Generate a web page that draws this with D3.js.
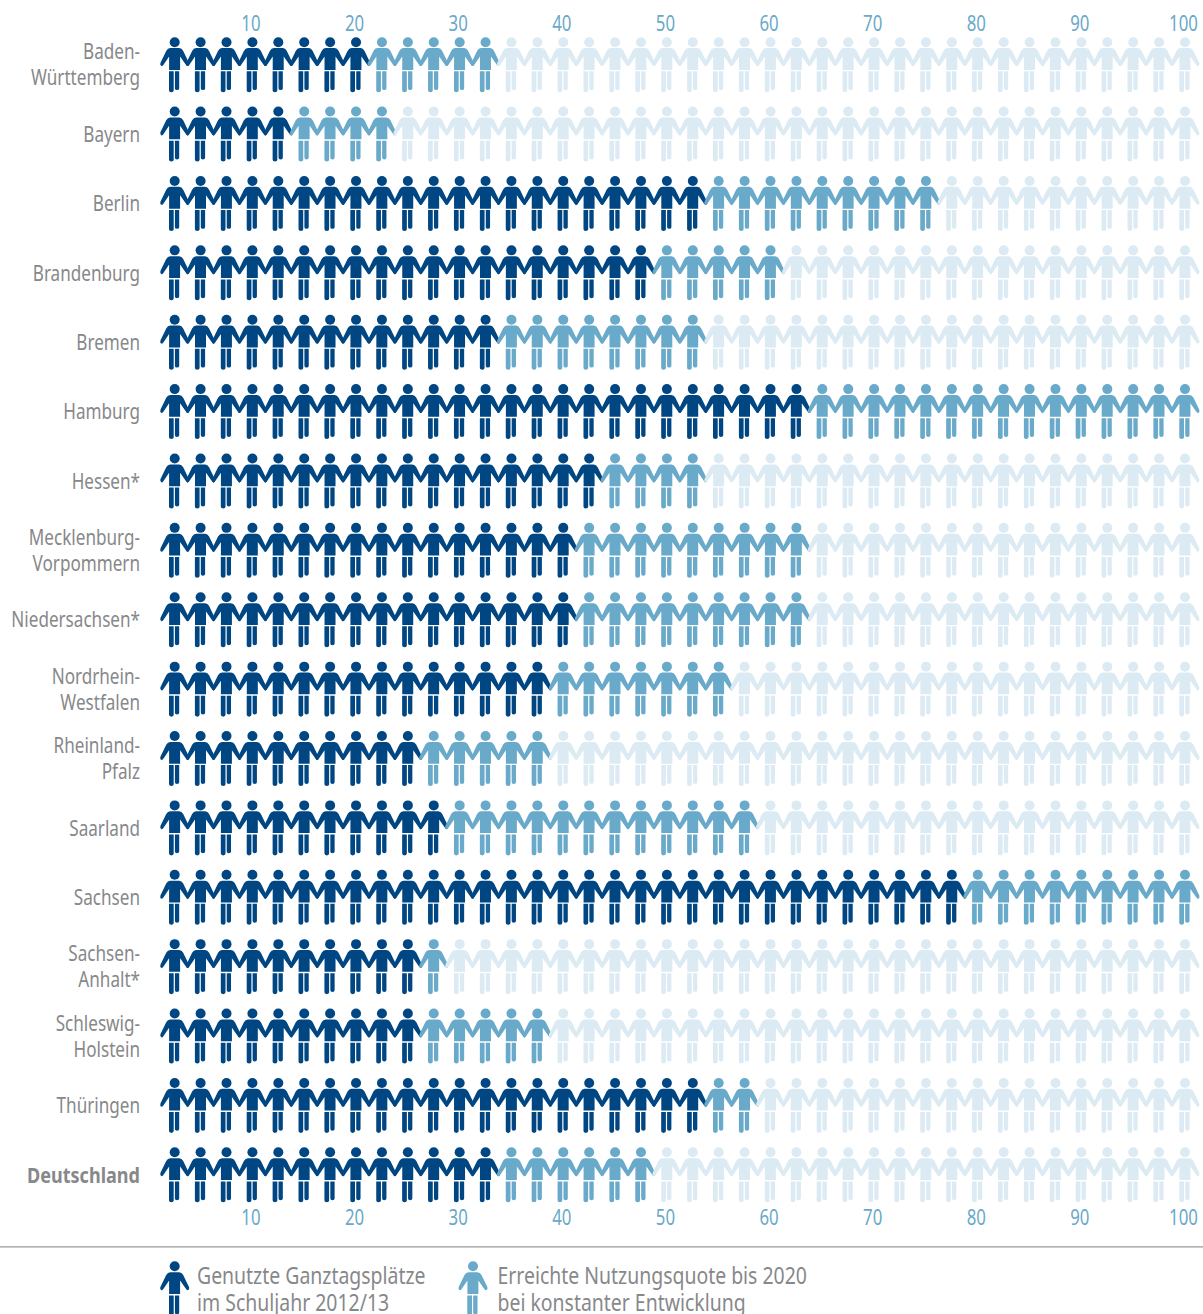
<!DOCTYPE html>
<html>
<head>
<meta charset="utf-8">
<script src="https://cdn.jsdelivr.net/npm/d3@7"></script>
<style>
  body { margin: 0; background: #fff; }
  svg { display: block; }
  text { font-family: "Noto Sans", "Open Sans", sans-serif; }
</style>
</head>
<body>
<div id="chart"></div>
<script>
// row labels, one entry per line of text
const states = [
    ['Baden-', 'Württemberg'], ['Bayern'], ['Berlin'], ['Brandenburg'], ['Bremen'], ['Hamburg'],
    ['Hessen*'], ['Mecklenburg-', 'Vorpommern'], ['Niedersachsen*'], ['Nordrhein-', 'Westfalen'],
    ['Rheinland-', 'Pfalz'], ['Saarland'], ['Sachsen'], ['Sachsen-', 'Anhalt*'],
    ['Schleswig-', 'Holstein'], ['Thüringen'], ['Deutschland']
];
// percent, one figure stands for 2.5
const used = [20, 12.5, 52.5, 47.5, 32.5, 62.5, 42.5, 40, 40, 37.5, 25, 27.5, 77.5, 25, 25, 52.5, 32.5];
const reached = [32.5, 22.5, 75, 60, 52.5, 100, 52.5, 62.5, 62.5, 55, 37.5, 57.5, 100, 27.5, 37.5, 57.5, 47.5];
const ticks = [10, 20, 30, 40, 50, 60, 70, 80, 90, 100];
const people = d3.range(1, 41).map(d => d * 2.5);
const legendLabels = [
    ['Genutzte Ganztagsplätze', 'im Schuljahr 2012/13'],
    ['Erreichte Nutzungsquote bis 2020', 'bei konstanter Entwicklung']
];

const dark = '#004682', mid = '#69a9c9', light = '#dcebf3', grey = '#87888a';

const width = 1203, height = 1314;
const svg = d3.select('#chart').append('svg')
    .attr('width', width)
    .attr('height', height);

const x = d3.scaleLinear().domain([2.5, 100]).range([174.7, 1185]);
const y = d3.scalePoint().domain(d3.range(states.length)).range([66.9, 1177]);

// one figure, drawn around its own centre
const personBody = 'M-4.5,-18.8 L4.5,-18.8 Q7,-18.8 8.5,-16 L14.3,-4 Q15,-1.5 13.2,-0.8 Q12,-0.6 11,-2.5 L5.4,-10.5 L5.4,3 L-5.6,3 L-5.6,-10.5 L-11,-2.5 Q-12,-0.6 -13.2,-0.8 Q-15,-1.5 -14.3,-4 L-8.5,-16 Q-7,-18.8 -4.5,-18.8 Z'
    + 'M-5.7,4.4 L-1,4.4 L-1,23.5 Q-1,25.3 -3.3,25.3 Q-5.7,25.3 -5.7,23.5 Z'
    + 'M0.2,4.4 L4.5,4.4 L4.5,21.5 Q4.5,23.2 2.3,23.2 Q0.2,23.2 0.2,21.5 Z';

function drawPerson(sel) {
    sel.append('circle').attr('cy', -24.7).attr('r', 5);
    sel.append('path').attr('d', personBody);
}

const rows = svg.append('g')
    .selectAll('g')
    .data(states)
    .join('g')
    .attr('transform', (d, i) => `translate(0,${y(i)})`);

rows.selectAll('g.person')
    .data((d, i) => people.map(p => ({ p: p, row: i })))
    .join('g')
    .attr('class', 'person')
    .attr('transform', d => `translate(${x(d.p)},0)`)
    .attr('fill', d => d.p <= used[d.row] ? dark : d.p <= reached[d.row] ? mid : light)
    .call(drawPerson);

// state names, right aligned, two line names centred on the row
const lastRow = states.length - 1;
const labels = rows.append('text')
    .attr('transform', (d, i) => `translate(140,0) scale(${i === lastRow ? 0.86 : 0.815},1)`)
    .attr('text-anchor', 'end')
    .attr('fill', grey)
    .attr('font-size', 21)
    .attr('font-weight', (d, i) => i === lastRow ? 700 : 400);

labels.selectAll('tspan')
    .data(d => d.map((line, i) => ({ line: line, dy: 5.5 + (i - (d.length - 1) / 2) * 26 })))
    .join('tspan')
    .attr('x', 0)
    .attr('y', d => d.dy)
    .text(d => d.line);

// number scale above and below the rows
[31, 1225].forEach(base => {
    svg.append('g')
        .selectAll('text')
        .data(ticks)
        .join('text')
        .attr('transform', d => `translate(${x(d) - 1.5},${base}) scale(0.8,1)`)
        .attr('text-anchor', 'middle')
        .attr('fill', mid)
        .attr('font-size', 21)
        .text(d => d);
});

svg.append('line')
    .attr('x1', 0)
    .attr('x2', width)
    .attr('y1', 1246.8)
    .attr('y2', 1246.8)
    .attr('stroke', '#999')
    .attr('stroke-width', 1.2);

// legend
const legend = svg.append('g')
    .selectAll('g')
    .data(legendLabels)
    .join('g')
    .attr('transform', (d, i) => `translate(${i === 0 ? 174.7 : 473},1291)`);

legend.append('g')
    .attr('fill', (d, i) => i === 0 ? dark : mid)
    .call(drawPerson);

legend.each(function (d) {
    d3.select(this).selectAll('text')
        .data(d)
        .join('text')
        .attr('transform', (line, i) => `translate(${d === legendLabels[0] ? 22.3 : 24.5},${-7 + i * 27}) scale(0.845,1)`)
        .attr('fill', grey)
        .attr('font-size', 23)
        .text(line => line);
});
</script>
</body>
</html>
